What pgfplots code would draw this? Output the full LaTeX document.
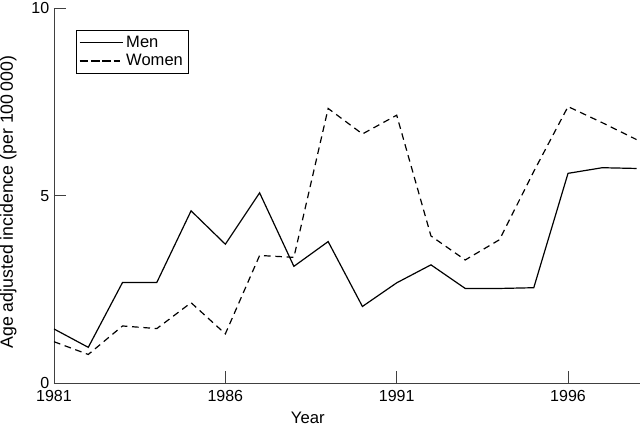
\documentclass[border=0pt]{standalone}
\usepackage{pgfplots}
\pgfplotsset{compat=1.18}
\usepackage{fontspec}
\setmainfont{Liberation Sans}

\begin{document}
\begin{tikzpicture}
\begin{axis}[
    scale only axis,
    width=439.5pt,
    height=281.25pt,
    xmin=1981, xmax=1998.1,
    ymin=0, ymax=10,
    axis x line=bottom,
    axis y line=left,
    axis line style={-, black!75, line width=0.6pt},
    xtick={1981,1986,1991,1996},
    ytick={0,5,10},
    tick align=inside,
    major tick length=9pt,
    tick style={black!75, line width=0.6pt},
    /pgf/number format/assume math mode=true,
    xticklabel style={/pgf/number format/1000 sep={}, font=\fontsize{12}{13}\selectfont, inner sep=0pt, yshift=-5pt},
    yticklabel style={font=\fontsize{12}{13}\selectfont, inner ysep=0pt},
    xlabel={Year},
    ylabel={Age adjusted incidence (per 100\,000)},
    xlabel style={at={(axis description cs:0.433,0)}, anchor=north, yshift=-18pt, font=\fontsize{12.5}{14}\selectfont},
    ylabel style={at={(axis description cs:-0.078,0.483)}, anchor=center, font=\fontsize{13.3}{15}\selectfont},
    legend style={at={(0.0375,0.941)}, anchor=north west, draw=black, line width=0.6pt,
        font=\fontsize{12.4}{12.4}\selectfont, inner xsep=2pt, inner ysep=2pt, row sep=-0.5pt,
        cells={anchor=west}},
    legend image code/.code={\path (-1.5pt,0pt) -- (31pt,0pt); \draw[#1] (0pt,0pt) -- (25pt,0pt);},
]
\addplot[black, line width=0.9pt] coordinates {
    (1981,1.45) (1982,0.96) (1983,2.69) (1984,2.69) (1985,4.60) (1986,3.71)
    (1987,5.08) (1988,3.12) (1989,3.78) (1990,2.05) (1991,2.68) (1992,3.16)
    (1993,2.53) (1994,2.53) (1995,2.55) (1996,5.60) (1997,5.75) (1998,5.73)
};
\addlegendentry{Men}
\addplot[black, line width=0.9pt, dash pattern=on 5pt off 3.5pt] coordinates {
    (1981,1.11) (1982,0.77) (1983,1.53) (1984,1.46) (1985,2.15) (1986,1.32)
    (1987,3.41) (1988,3.36) (1989,7.33) (1990,6.65) (1991,7.15) (1992,3.93)
    (1993,3.29) (1994,3.83) (1995,5.65) (1996,7.38) (1997,6.95) (1998,6.50)
};
\addlegendentry{Women}
\end{axis}
\pgfresetboundingbox
\path (-40.5pt,-32.25pt) rectangle (439.5pt,287.5pt);
\end{tikzpicture}
\end{document}
